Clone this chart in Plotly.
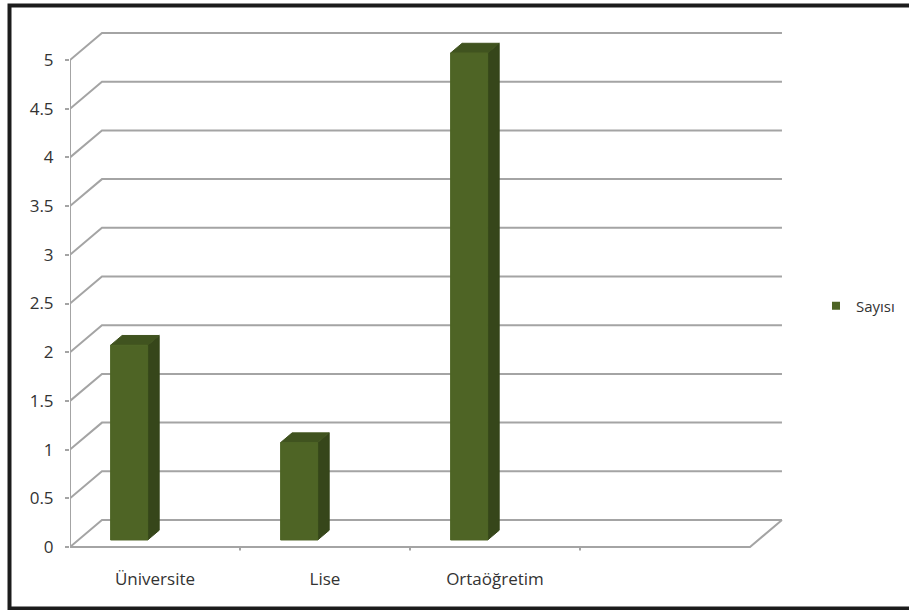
import plotly.graph_objects as go

# Data
categories = ["Üniversite", "Lise", "Ortaöğretim", ""]
values = [2, 1, 5]
series_name = "Sayısı"
y_ticks = [0, 0.5, 1, 1.5, 2, 2.5, 3, 3.5, 4, 4.5, 5]

# Oblique 3D projection: depth vector in axis units
DX, DY = 0.188, 0.277
F0, F1 = 0.26, 0.62          # depth span of the columns
BAR_OFF, BAR_W = -0.31, 0.218  # column left edge relative to category centre, width
Y_MAX = 5

FRONT = "#4E6425"
SIDE = "#36461A"
TOP = "#40531F"
GRID = "#A4A4A4"

n_cat = len(categories)
x_left, x_right = -0.5, n_cat - 0.5


def shift(x, y, f):
    return x + f * DX, y + f * DY


def face(pts, color, **kw):
    return go.Scatter(x=[p[0] for p in pts] + [pts[0][0]],
                      y=[p[1] for p in pts] + [pts[0][1]],
                      fill="toself", fillcolor=color, mode="lines",
                      line=dict(color=color, width=1),
                      hoverinfo="skip", showlegend=False, **kw)


fig = go.Figure()

# Walls: back gridlines, left diagonals, floor
gx, gy = [], []
for v in y_ticks:
    x0, y0 = shift(x_left, v, 0)
    x1, y1 = shift(x_left, v, 1)
    x2, y2 = shift(x_right, v, 1)
    gx += [x0, x1, x2, None]
    gy += [y0, y1, y2, None]
# front floor edge and right floor diagonal
fx, fy = shift(x_right, 0, 1)
gx += [x_left, x_right, fx, None]
gy += [0, 0, fy, None]
# vertical value axis
gx += [x_left, x_left, None]
gy += [0, Y_MAX, None]
# category separator ticks below the floor
for i in range(1, n_cat):
    gx += [i - 0.5, i - 0.5, None]
    gy += [0, -0.035, None]
fig.add_trace(go.Scatter(x=gx, y=gy, mode="lines",
                         line=dict(color=GRID, width=2),
                         hoverinfo="skip", showlegend=False))

# Columns: side, top and front faces
for i, v in enumerate(values):
    xl = i + BAR_OFF
    xr = xl + BAR_W
    fig.add_trace(face([shift(xr, 0, F0), shift(xr, 0, F1),
                        shift(xr, v, F1), shift(xr, v, F0)], SIDE))
    fig.add_trace(face([shift(xl, v, F0), shift(xr, v, F0),
                        shift(xr, v, F1), shift(xl, v, F1)], TOP))
    fig.add_trace(face([shift(xl, 0, F0), shift(xr, 0, F0),
                        shift(xr, v, F0), shift(xl, v, F0)], FRONT))

# legend entry for the series
fig.add_trace(go.Scatter(x=[None], y=[None], mode="markers", name=series_name,
                         marker=dict(symbol="square", size=8, color=FRONT),
                         showlegend=True))

# Layout geometry
W, H = 909, 610
ML, MR, MT, MB = 70, 117, 20, 59
plot_w = W - ML - MR
plot_h = H - MT - MB
x_span = plot_w / 170.0
y_per = 97.4
y0_px = 547
y_min = -(MT + plot_h - y0_px) / y_per
y_max = y_min + plot_h / y_per


def px_to_paper(px, py):
    return (px - ML) / plot_w, (MT + plot_h - py) / plot_h


bx0, by0 = px_to_paper(9.5, 608.5)
bx1, by1 = px_to_paper(915, 5.5)
lx, ly = px_to_paper(816, 306)

fig.update_layout(
    width=W, height=H,
    margin=dict(l=ML, r=MR, t=MT, b=MB, autoexpand=False),
    paper_bgcolor="white", plot_bgcolor="white",
    font=dict(family="Open Sans", size=16, color="#333333"),
    xaxis=dict(range=[x_left, x_left + x_span], showgrid=False, zeroline=False,
               showline=False, tickmode="array",
               tickvals=list(range(n_cat)), ticktext=categories,
               ticks="", ticklabelstandoff=16,
               tickfont=dict(size=17)),
    yaxis=dict(range=[y_min, y_max], showgrid=False, zeroline=False,
               showline=False, tickmode="array", tickvals=y_ticks,
               ticktext=[f"{t:g}" for t in y_ticks],
               ticks="outside", ticklen=4, tickcolor=GRID, tickwidth=2,
               ticklabelstandoff=8, tickfont=dict(size=17)),
    legend=dict(x=lx, y=ly, xanchor="left", yanchor="middle",
                font=dict(size=15, color="#333333"),
                itemwidth=30, bgcolor="rgba(0,0,0,0)"),
    shapes=[dict(type="rect", xref="paper", yref="paper",
                 x0=bx0, y0=by0, x1=bx1, y1=by1,
                 line=dict(color="#1C1C1C", width=4), layer="above")],
)

fig.write_html("out.html")
